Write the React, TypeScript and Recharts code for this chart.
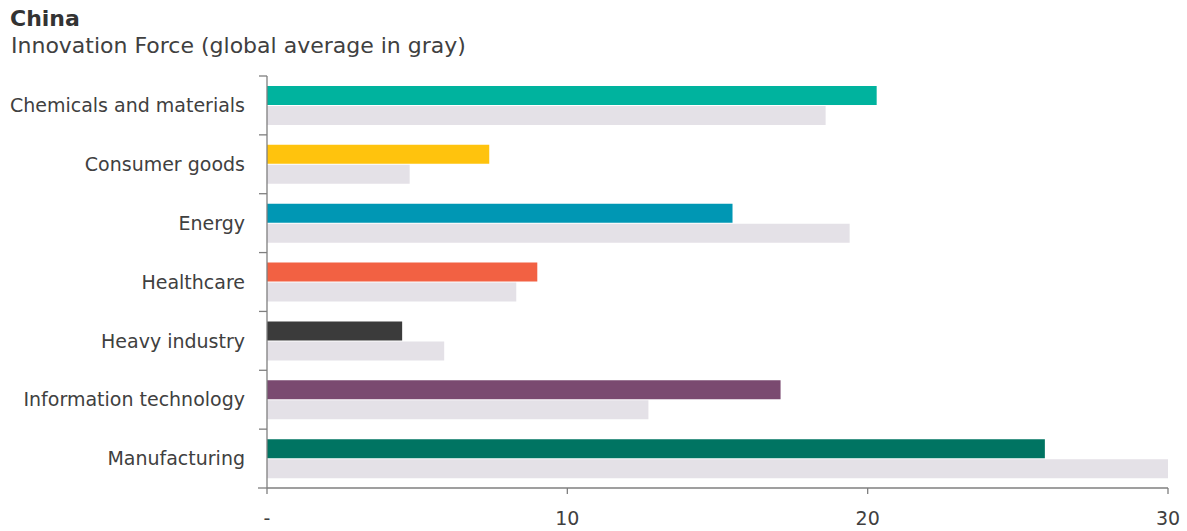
import React from "react";
import { BarChart, Bar, XAxis, YAxis, Cell } from "recharts";

const sectors = [
  "Chemicals and materials",
  "Consumer goods",
  "Energy",
  "Healthcare",
  "Heavy industry",
  "Information technology",
  "Manufacturing",
];
const chinaForce = [20.3, 7.4, 15.5, 9.0, 4.5, 17.1, 25.9];
const globalAvg = [18.6, 4.75, 19.4, 8.3, 5.9, 12.7, 30.0];
const sectorColors = ["#00B39E", "#FFC30D", "#0097B4", "#F26143", "#3B3B3B", "#7A4A70", "#007462"];
const xTicks = [0, 10, 20, 30];

const data = sectors.map((s, i) => ({ sector: s, china: chinaForce[i], global: globalAvg[i] }));

const W = 1187;
const H = 531;
const TOP = 76;
const BOTTOM = 43;
const BAND = (H - TOP - BOTTOM) / sectors.length;
const FONT = "'DejaVu Sans', Verdana, sans-serif";
const AXIS = "#7f7f7f";

// category label plus the boundary tick marks between categories
const SectorTick = (props: any) => {
  const { x, y, payload, index } = props;
  const ax = x + 8; // recharts hands over x already shifted by tick size + margin
  const top = y - BAND / 2;
  return (
    <g>
      <line x1={ax - 8} x2={ax} y1={top} y2={top} stroke={AXIS} strokeWidth={1.3} />
      {index === sectors.length - 1 && (
        <line x1={ax - 9} x2={ax} y1={y + BAND / 2} y2={y + BAND / 2} stroke={AXIS} strokeWidth={1.3} />
      )}
      <text x={ax - 22} y={y} dy="0.355em" textAnchor="end" fontSize={19} fill="#404040" fontFamily={FONT}>
        {payload.value}
      </text>
    </g>
  );
};

export default function App() {
  return (
    <div style={{ position: "absolute", left: 0, top: 0, width: W, height: H, background: "#fff", fontFamily: FONT }}>
      <div style={{ position: "absolute", left: 10, top: 8, fontSize: 22, lineHeight: "22px", fontWeight: "bold", color: "#333" }}>
        China
      </div>
      <div style={{ position: "absolute", left: 11, top: 35, fontSize: 22, lineHeight: "22px", color: "#404040" }}>
        Innovation Force (global average in gray)
      </div>
      <BarChart
        width={W}
        height={H}
        data={data}
        layout="vertical"
        margin={{ top: TOP, right: 19, bottom: 3, left: 8 }}
        barCategoryGap={10}
        barGap={1}
      >
        <XAxis
          type="number"
          domain={[0, 30]}
          ticks={xTicks}
          tickFormatter={(v: number) => (v === 0 ? "-" : String(v))}
          tickSize={6}
          tickMargin={18}
          height={40}
          stroke={AXIS}
          strokeWidth={1.3}
          tick={{ fontSize: 19, fill: "#404040", fontFamily: FONT }}
        />
        <YAxis
          type="category"
          dataKey="sector"
          width={259}
          tickLine={false}
          tick={<SectorTick />}
          stroke={AXIS}
          strokeWidth={1.3}
          interval={0}
        />
        <Bar dataKey="china" isAnimationActive={false}>
          {data.map((d, i) => (
            <Cell key={d.sector} fill={sectorColors[i]} />
          ))}
        </Bar>
        <Bar dataKey="global" fill="#E4E1E7" isAnimationActive={false} />
      </BarChart>
    </div>
  );
}
